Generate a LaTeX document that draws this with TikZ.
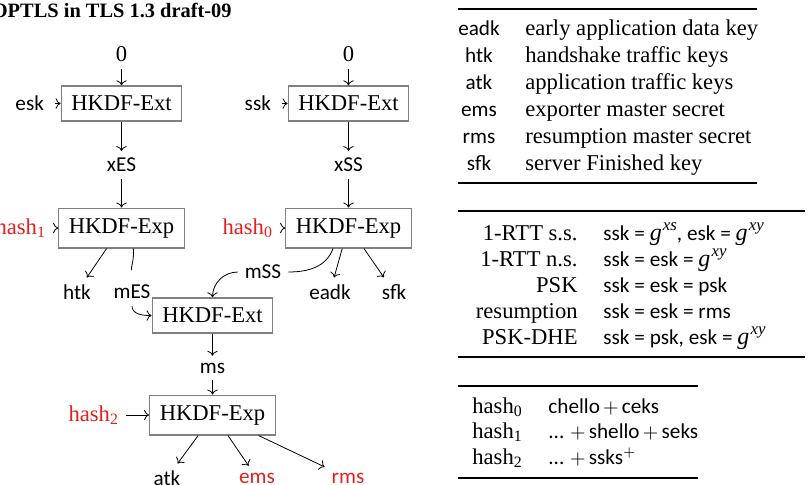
\documentclass[tikz,border=0pt]{standalone}
\usepackage{fontspec}
\setmainfont{Liberation Serif}
\setsansfont{Carlito}
\usepackage{xcolor}
\usetikzlibrary{arrows.meta,positioning}
\definecolor{hashred}{HTML}{E3201B}
\definecolor{boxgray}{HTML}{808080}

\newcommand{\rmsize}{\fontsize{11.3}{13.5}\selectfont}
\newcommand{\sfsize}{\fontsize{10.6}{12.7}\selectfont\sffamily}
\newcommand{\gpow}[1]{{\rmfamily\itshape\fontsize{12}{13}\selectfont g\kern0.6pt\raisebox{0.85ex}{\fontsize{8.4}{9}\selectfont #1}}}
\newcommand{\plus}{\kern1.6pt{\fontsize{10}{12}\selectfont$+$}\kern1.6pt}

\tikzset{
  kdf/.style={draw=boxgray, line width=0.7pt, inner sep=5pt},
  lbl/.style={font=\sfsize},
  hsh/.style={text=hashred},
  cell/.style={inner sep=0pt},
  rule/.style={line width=0.8pt},
}

\begin{document}
\begin{tikzpicture}[x=0.5pt, y=-0.5pt, font=\rmsize]
\useasboundingbox (0,0) rectangle (810,484);

\node[anchor=base east, inner sep=0pt, font=\fontsize{10.2}{12}\selectfont\bfseries] (title) at (232,17) {OPTLS in TLS 1.3 draft-09};

% --- early secret (left) ---
\node (zA) at (121.5,54) {0};
\node[kdf] (extA) at (121.5,103.5) {HKDF-Ext};
\node[lbl, anchor=east] (esk) at (51,103.5) {esk};
\node[lbl] (xES) at (121.5,165) {xES};
\node[kdf] (expA) at (121.5,228) {HKDF-Exp};
\node[hsh, anchor=east] (hashA) at (53,228) {hash\textsubscript{1}};
\node[lbl] (htk) at (77,292) {htk};
\node[lbl] (mES) at (132,292) {mES};

% --- static secret (right) ---
\node (zB) at (348.5,54) {0};
\node[kdf] (extB) at (348.5,103.5) {HKDF-Ext};
\node[lbl, anchor=east] (ssk) at (278,103.5) {ssk};
\node[lbl] (xSS) at (348.5,165) {xSS};
\node[kdf] (expB) at (348.5,228) {HKDF-Exp};
\node[hsh, anchor=east] (hashB) at (280,228) {hash\textsubscript{0}};
\node[lbl] (mSS) at (263,272) {mSS};
\node[lbl] (eadk) at (330,292) {eadk};
\node[lbl] (sfk) at (394,292) {sfk};

% --- master secret (middle) ---
\node[kdf] (extC) at (212.5,315.5) {HKDF-Ext};
\node[lbl] (ms) at (212.5,368) {ms};
\node[kdf] (expC) at (212.5,415) {HKDF-Exp};
\node[hsh, anchor=east] (hashC) at (126,415) {hash\textsubscript{2}};
\node[lbl] (atk) at (167,478) {atk};
\node[lbl, text=hashred] (ems) at (257,478) {ems};
\node[lbl, text=hashred] (rms) at (348,478) {rms};

% arrows
\draw[->] (zA) -- (extA);
\draw[->, shorten <=2pt] (esk) -- (extA);
\draw[->] (extA) -- (xES);
\draw[->] (xES) -- (expA);
\draw[->, shorten <=2pt] (hashA) -- (expA);
\draw[->] (expA.-126) -- (htk);
\draw[shorten >=4pt] (expA.-60) to[out=-85, in=95] (mES.north);
\draw[->] (mES.south) to[out=-90, in=180] (extC.west);

\draw[->] (zB) -- (extB);
\draw[->, shorten <=2pt] (ssk) -- (extB);
\draw[->] (extB) -- (xSS);
\draw[->] (xSS) -- (expB);
\draw[->, shorten <=2pt] (hashB) -- (expB);
\draw (expB.-127) to[out=-110, in=0] (mSS.east);
\draw[->] (mSS.west) to[out=180, in=90] (extC.north);
\draw[->] (expB.-107) -- (eadk);
\draw[->] (expB.-53) -- (sfk);

\draw[->] (extC) -- (ms);
\draw[->] (ms) -- (expC);
\draw[->] (hashC) -- (expC);
\draw[->] (expC.-125) -- (atk);
\draw[->] (expC.-53) -- (ems);
\draw[->] (expC.-24) -- (rms);

% --- key names ---
\draw[rule] (458,9) -- (757,9);
\foreach \k/\d [count=\i] in {eadk/early application data key, htk/handshake traffic keys,
    atk/application traffic keys, ems/exporter master secret,
    rms/resumption master secret, sfk/server Finished key}
{
  \node[lbl, cell, anchor=base] (key\i) at (479,{35+27*(\i-1)}) {\k};
  \node[cell, anchor=base west] (desc\i) at (525,{35+27*(\i-1)}) {\d};
}
\draw[rule] (458,183) -- (757,183);

% --- handshake modes ---
\draw[rule] (458,211) -- (805,211);
\foreach \m/\s [count=\i] in {1-RTT s.s./{ssk = \gpow{xs}, esk = \gpow{xy}},
    1-RTT n.s./{ssk = esk = \gpow{xy}}, PSK/{ssk = esk = psk},
    resumption/{ssk = esk = rms}, PSK-DHE/{ssk = psk, esk = \gpow{xy}}}
{
  \node[cell, anchor=base east] (mode\i) at (578,{240+26*(\i-1)}) {\m};
  \node[lbl, cell, anchor=base west] (sec\i) at (603,{240+26*(\i-1)}) {\s};
}
\draw[rule] (458,357) -- (805,357);

% --- transcript hashes ---
\draw[rule] (458,386) -- (698,386);
\foreach \h/\t [count=\i] in {0/{chello\plus ceks}, 1/{...\kern1.2pt\plus shello\plus seks},
    2/{...\kern1.2pt\plus ssks$^+$}}
{
  \node[cell, anchor=base west] (hash\i) at (472,{413+25.5*(\i-1)}) {hash\textsubscript{\h}};
  \node[lbl, cell, anchor=base west] (msg\i) at (548,{413+25.5*(\i-1)}) {\t};
}
\draw[rule] (458,478) -- (698,478);
\end{tikzpicture}
\end{document}
